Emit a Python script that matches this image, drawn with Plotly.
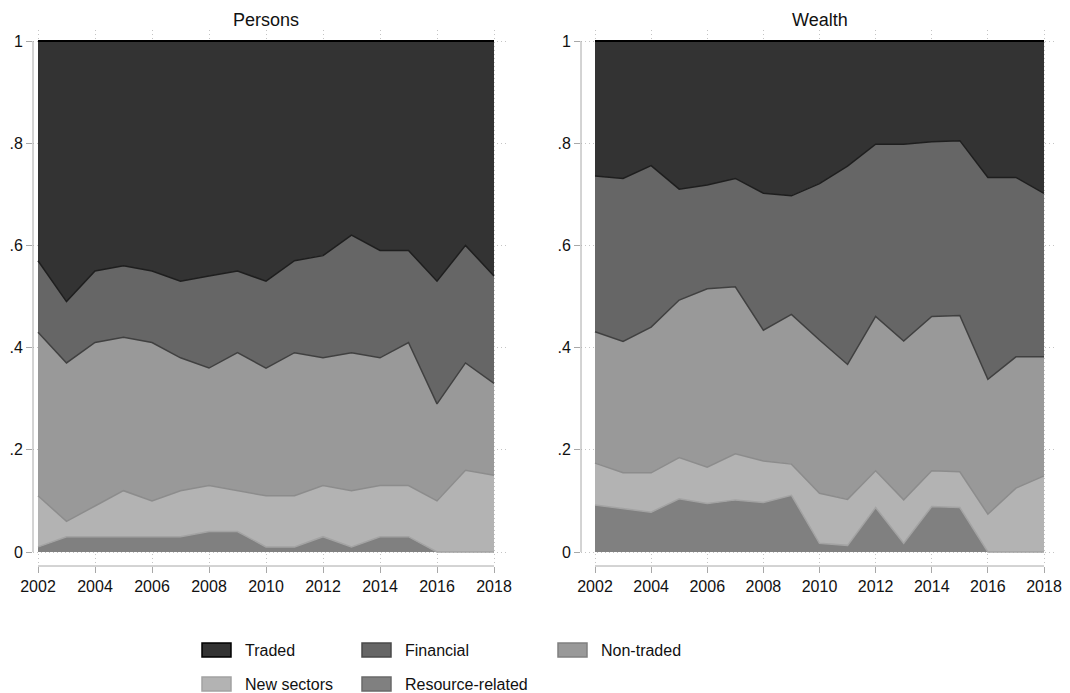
import plotly.graph_objects as go

# years on the x axis
years = [2002, 2003, 2004, 2005, 2006, 2007, 2008, 2009, 2010,
         2011, 2012, 2013, 2014, 2015, 2016, 2017, 2018]

# shares of persons by sector (each layer, bottom to top)
persons_resource = [.01, .03, .03, .03, .03, .03, .04, .04, .01, .01, .03, .01, .03, .03, 0, 0, 0]
persons_new      = [.10, .03, .06, .09, .07, .09, .09, .08, .10, .10, .10, .11, .10, .10, .10, .16, .15]
persons_nontrad  = [.32, .31, .32, .30, .31, .26, .23, .27, .25, .28, .25, .27, .25, .28, .19, .21, .18]
persons_finance  = [.14, .12, .14, .14, .14, .15, .18, .16, .17, .18, .20, .23, .21, .18, .24, .23, .21]
persons_traded   = [.43, .51, .45, .44, .45, .47, .46, .45, .47, .43, .42, .38, .41, .41, .47, .40, .46]

# shares of wealth by sector
wealth_resource = [.092, .085, .078, .104, .095, .102, .097, .111, .017, .013, .087, .017, .089, .087, 0, 0, 0]
wealth_new      = [.082, .070, .077, .081, .071, .090, .081, .061, .098, .090, .072, .085, .070, .070, .074, .125, .149]
wealth_nontrad  = [.257, .257, .285, .308, .349, .327, .256, .293, .300, .264, .302, .311, .302, .306, .264, .257, .233]
wealth_finance  = [.305, .319, .316, .217, .203, .212, .268, .232, .306, .388, .337, .385, .342, .342, .395, .351, .320]
wealth_traded   = [.264, .269, .244, .290, .282, .269, .298, .303, .279, .245, .202, .202, .197, .195, .267, .267, .298]

x_ticks = [2002, 2004, 2006, 2008, 2010, 2012, 2014, 2016, 2018]
y_ticks = [0, .2, .4, .6, .8, 1]
y_labels = ["0", ".2", ".4", ".6", ".8", "1"]

panel_titles = ["Persons", "Wealth"]

# name, fill, outline (stacking order bottom -> top)
SERIES = [
    ("Resource-related", "#808080", "#a3a3a3"),
    ("New sectors",      "#b3b3b3", "#8c8c8c"),
    ("Non-traded",       "#999999", "#404040"),
    ("Financial",        "#666666", "#1e1e1e"),
    ("Traded",           "#333333", "#000000"),
]

# the page body adds an 8px margin, so the figure starts at (8, 8) in the window
OFF = 8
W, H = 1070 - OFF, 693 - OFF


def xp(px):
    return (px - OFF) / W


def yp(py):
    return 1 - (py - OFF) / H


FONT = "Liberation Sans, Arial, sans-serif"
AXIS_GREY = "#a8a8a8"
GRID_GREY = "#c4c4c4"
TICK_LEN = 6

fig = go.Figure()

panels = [
    ([persons_resource, persons_new, persons_nontrad, persons_finance, persons_traded], "x", "y", "p"),
    ([wealth_resource, wealth_new, wealth_nontrad, wealth_finance, wealth_traded], "x2", "y2", "w"),
]
for values, xa, ya, grp in panels:
    for (name, fill, line), vals in zip(SERIES, values):
        fig.add_trace(go.Scatter(
            x=years, y=vals, name=name, mode="lines",
            stackgroup=grp, fillcolor=fill,
            line=dict(color=line, width=2 if name == "Traded" else 1.5),
            xaxis=xa, yaxis=ya, showlegend=False,
        ))

# pixel layout of the two panels (window pixels)
px_per_unit = 511
y_dom = [yp(566), yp(30)]
y_rng = [-(566 - 552) / px_per_unit, 1 + (41 - 30) / px_per_unit]


def xaxis_cfg(left_px, right_px, x2002_px, x2018_px):
    ppy = (x2018_px - x2002_px) / (years[-1] - years[0])
    return dict(
        domain=[xp(left_px), xp(right_px)],
        range=[years[0] - (x2002_px - left_px) / ppy,
               years[-1] + (right_px - x2018_px) / ppy],
        tickvals=x_ticks, tickformat="d", automargin=False,
        ticklabeloverflow="allow",
        ticks="outside", ticklen=TICK_LEN, tickwidth=1, tickcolor=AXIS_GREY,
        showline=False, zeroline=False,
        showgrid=True, gridcolor=GRID_GREY, griddash="1px,3px", gridwidth=1,
        tickfont=dict(family=FONT, size=16, color="#111"),
    )


def yaxis_cfg(anchor):
    return dict(
        domain=y_dom, range=y_rng, anchor=anchor, automargin=False,
        ticklabeloverflow="allow",
        tickvals=y_ticks, ticktext=y_labels,
        ticks="outside", ticklen=TICK_LEN, tickwidth=1, tickcolor=AXIS_GREY,
        showline=False, zeroline=False,
        showgrid=True, gridcolor=GRID_GREY, griddash="1px,3px", gridwidth=1,
        tickfont=dict(family=FONT, size=16, color="#111"),
    )


# right panel kept a little inside the visible area so "2018" is not clipped
fig.update_layout(
    template="none",
    width=W, height=H,
    margin=dict(l=0, r=0, t=0, b=0, pad=0),
    paper_bgcolor="white", plot_bgcolor="white",
    showlegend=False,
    xaxis=xaxis_cfg(33, 506, 38, 494),
    yaxis=yaxis_cfg("x"),
    xaxis2=xaxis_cfg(581, 1056, 595, 1044),
    yaxis2=yaxis_cfg("x2"),
)

# axis lines only over the data range (Stata style)
shapes = []
for xa, ya in [("x", "y"), ("x2", "y2")]:
    shapes.append(dict(type="line", xref=xa + " domain", yref=ya,
                       x0=0, x1=0, y0=y_ticks[0], y1=y_ticks[-1],
                       line=dict(color=AXIS_GREY, width=1)))
    shapes.append(dict(type="line", xref=xa, yref=ya + " domain",
                       x0=years[0], x1=years[-1], y0=0, y1=0,
                       line=dict(color=AXIS_GREY, width=1)))

annotations = []
title_x = [xp((38 + 494) / 2), xp((595 + 1044) / 2)]
for t, xc in zip(panel_titles, title_x):
    annotations.append(dict(text=t, x=xc, y=yp(9), xref="paper", yref="paper",
                            xanchor="center", yanchor="top", showarrow=False,
                            borderpad=0,
                            font=dict(family=FONT, size=18, color="#111")))

# legend: three columns, two rows
legend_order = ["Traded", "Financial", "Non-traded", "New sectors", "Resource-related"]
col_box_x = [202, 362, 558]
row_y = [650, 684]
styles = {name: (fill, line) for name, fill, line in SERIES}
legend_outline = {"Traded": "#000000", "Financial": "#4a4a4a", "Non-traded": "#808080",
                  "New sectors": "#a3a3a3", "Resource-related": "#6a6a6a"}
for i, name in enumerate(legend_order):
    col, row = i % 3, i // 3
    bx, cy = col_box_x[col], row_y[row]
    fill, _ = styles[name]
    shapes.append(dict(type="rect", xref="paper", yref="paper",
                       x0=xp(bx), x1=xp(bx + 29),
                       y0=yp(cy + 7), y1=yp(cy - 7),
                       fillcolor=fill, line=dict(color=legend_outline[name], width=1.5)))
    annotations.append(dict(text=name, x=xp(bx + 41), y=yp(cy),
                            xref="paper", yref="paper", xanchor="left", yanchor="middle",
                            showarrow=False, font=dict(family=FONT, size=16, color="#111")))

fig.update_layout(shapes=shapes, annotations=annotations)

fig.write_html("out.html")
